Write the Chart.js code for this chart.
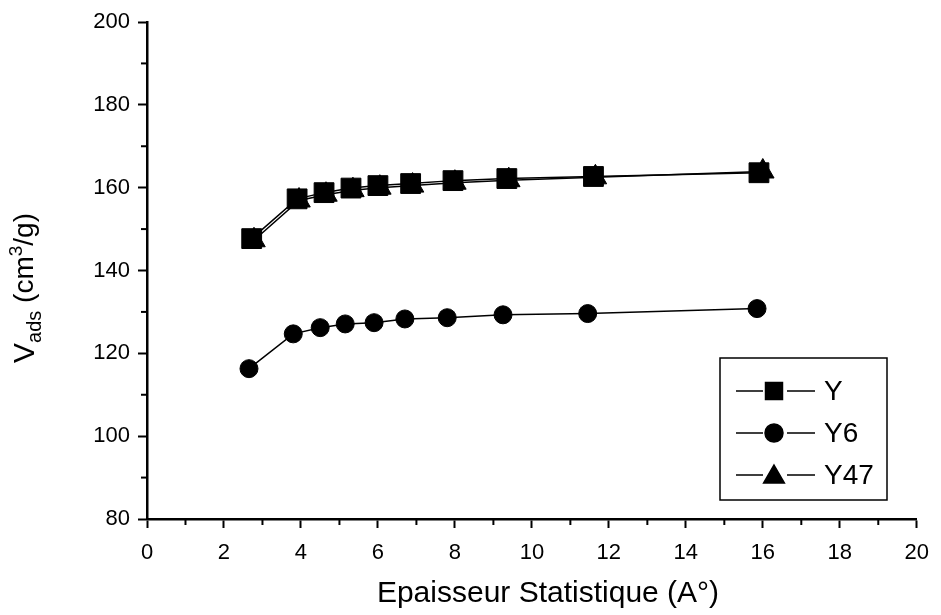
<!DOCTYPE html>
<html>
<head>
<meta charset="utf-8">
<script src="https://cdn.jsdelivr.net/npm/chart.js@4.4.1/dist/chart.umd.min.js"></script>
<style>
  html, body { margin: 0; padding: 0; background: #fff; }
  #wrap { width: 941px; height: 615px; }
</style>
</head>
<body>
<div id="wrap"><canvas id="vadsChart" width="941" height="615"></canvas></div>
<script>
// values
const seriesNames = ['Y', 'Y6', 'Y47'];

const xY   = [2.72, 3.9, 4.6, 5.3, 6.0, 6.85, 7.95, 9.35, 11.6, 15.9];
const vY   = [147.7, 157.3, 158.8, 159.9, 160.5, 161.0, 161.7, 162.2, 162.7, 163.6];

const xY6  = [2.65, 3.8, 4.5, 5.15, 5.9, 6.7, 7.8, 9.25, 11.45, 15.85];
const vY6  = [116.3, 124.7, 126.2, 127.1, 127.4, 128.3, 128.6, 129.3, 129.6, 130.8];

const xY47 = [2.78, 3.95, 4.65, 5.35, 6.05, 6.9, 8.0, 9.4, 11.65, 16.0];
const vY47 = [147.3, 156.9, 158.3, 159.4, 160.0, 160.5, 161.2, 161.8, 162.5, 163.9];

const xTickStep = 2, yTickStep = 20;
const xMinorTicks = [1, 3, 5, 7, 9, 11, 13, 15, 17, 19];
const yMinorTicks = [90, 110, 130, 150, 170, 190];

const FONT = '"Liberation Sans", Arial, Helvetica, sans-serif';

function pts(xs, ys) {
  return xs.map((x, i) => ({ x: x, y: ys[i] }));
}

function series(label, data, style, radius) {
  return {
    label: label,
    data: data,
    showLine: true,
    borderColor: '#000',
    backgroundColor: '#000',
    borderWidth: 1.5,
    pointStyle: style,
    pointRadius: radius,
    pointHoverRadius: radius,
    pointBackgroundColor: '#000',
    pointBorderColor: '#000',
    pointBorderWidth: 1,
    tension: 0
  };
}

// minor ticks, axis titles and the boxed legend
const extras = {
  id: 'extras',
  afterDraw(chart) {
    const ctx = chart.ctx;
    const xs = chart.scales.x, ys = chart.scales.y;
    ctx.save();
    ctx.strokeStyle = '#000';
    ctx.lineWidth = 2;
    xMinorTicks.forEach(v => {
      const px = xs.getPixelForValue(v);
      ctx.beginPath();
      ctx.moveTo(px, ys.bottom);
      ctx.lineTo(px, ys.bottom + 6);
      ctx.stroke();
    });
    yMinorTicks.forEach(v => {
      const py = ys.getPixelForValue(v);
      ctx.beginPath();
      ctx.moveTo(xs.left, py);
      ctx.lineTo(xs.left - 6, py);
      ctx.stroke();
    });

    // x title
    ctx.fillStyle = '#000';
    ctx.font = '30px ' + FONT;
    ctx.textAlign = 'center';
    ctx.textBaseline = 'middle';
    ctx.fillText('Epaisseur Statistique (A°)', 548, 594);

    // y title: V_ads (cm³/g)
    ctx.save();
    ctx.translate(26, 288);
    ctx.rotate(-Math.PI / 2);
    ctx.textAlign = 'left';
    ctx.textBaseline = 'middle';
    const parts = [
      { t: 'V', size: 30, dy: 0 },
      { t: 'ads', size: 20, dy: 9 },
      { t: ' (cm', size: 28, dy: -1 },
      { t: '3', size: 19, dy: -9 },
      { t: '/g)', size: 28, dy: -1 }
    ];
    let total = 0;
    parts.forEach(p => { ctx.font = p.size + 'px ' + FONT; p.w = ctx.measureText(p.t).width; total += p.w; });
    let cx = -total / 2;
    parts.forEach(p => {
      ctx.font = p.size + 'px ' + FONT;
      ctx.fillText(p.t, cx, p.dy);
      cx += p.w;
    });
    ctx.restore();

    // legend
    const box = { l: 720, t: 358, r: 887, b: 500 };
    ctx.lineWidth = 1.5;
    ctx.strokeRect(box.l, box.t, box.r - box.l, box.b - box.t);
    const rows = [391, 433, 475];
    chart.data.datasets.forEach((ds, i) => {
      const y = rows[i];
      ctx.lineWidth = 1.5;
      ctx.beginPath();
      ctx.moveTo(736, y); ctx.lineTo(763, y);
      ctx.moveTo(787, y); ctx.lineTo(815, y);
      ctx.stroke();
      ctx.fillStyle = '#000';
      Chart.helpers.drawPoint(ctx, {
        pointStyle: ds.pointStyle,
        radius: ds.pointStyle === 'rect' ? 12 : (ds.pointStyle === 'circle' ? 9 : 12),
        borderWidth: 1
      }, 774, ds.pointStyle === 'triangle' ? y + 2 : y);
      ctx.font = '28px ' + FONT;
      ctx.textAlign = 'left';
      ctx.textBaseline = 'middle';
      ctx.fillText(ds.label, 824, y + 1);
    });
    ctx.restore();
  }
};

const ctx = document.getElementById('vadsChart').getContext('2d');
new Chart(ctx, {
  type: 'scatter',
  data: {
    datasets: [
      series(seriesNames[0], pts(xY, vY), 'rect', 14),
      series(seriesNames[1], pts(xY6, vY6), 'circle', 9),
      series(seriesNames[2], pts(xY47, vY47), 'triangle', 13)
    ]
  },
  options: {
    responsive: false,
    animation: false,
    layout: { padding: { top: 22, right: 21, left: 0, bottom: 0 } },
    plugins: {
      legend: { display: false },
      tooltip: { enabled: false }
    },
    scales: {
      x: {
        type: 'linear',
        min: 0, max: 20,
        afterFit: s => { s.height = 96; },
        border: { color: '#000', width: 2.5 },
        grid: { drawOnChartArea: false, color: '#000', tickLength: 9, tickWidth: 2 },
        ticks: { stepSize: xTickStep, color: '#000', padding: 12, maxRotation: 0,
                 font: { family: FONT, size: 22 } }
      },
      y: {
        type: 'linear',
        min: 80, max: 200,
        afterFit: s => { s.width = 147; },
        border: { color: '#000', width: 2.5 },
        grid: { drawOnChartArea: false, color: '#000', tickLength: 9, tickWidth: 2 },
        ticks: { stepSize: yTickStep, color: '#000', padding: 8,
                 font: { family: FONT, size: 22 } }
      }
    }
  },
  plugins: [extras]
});
</script>
</body>
</html>
